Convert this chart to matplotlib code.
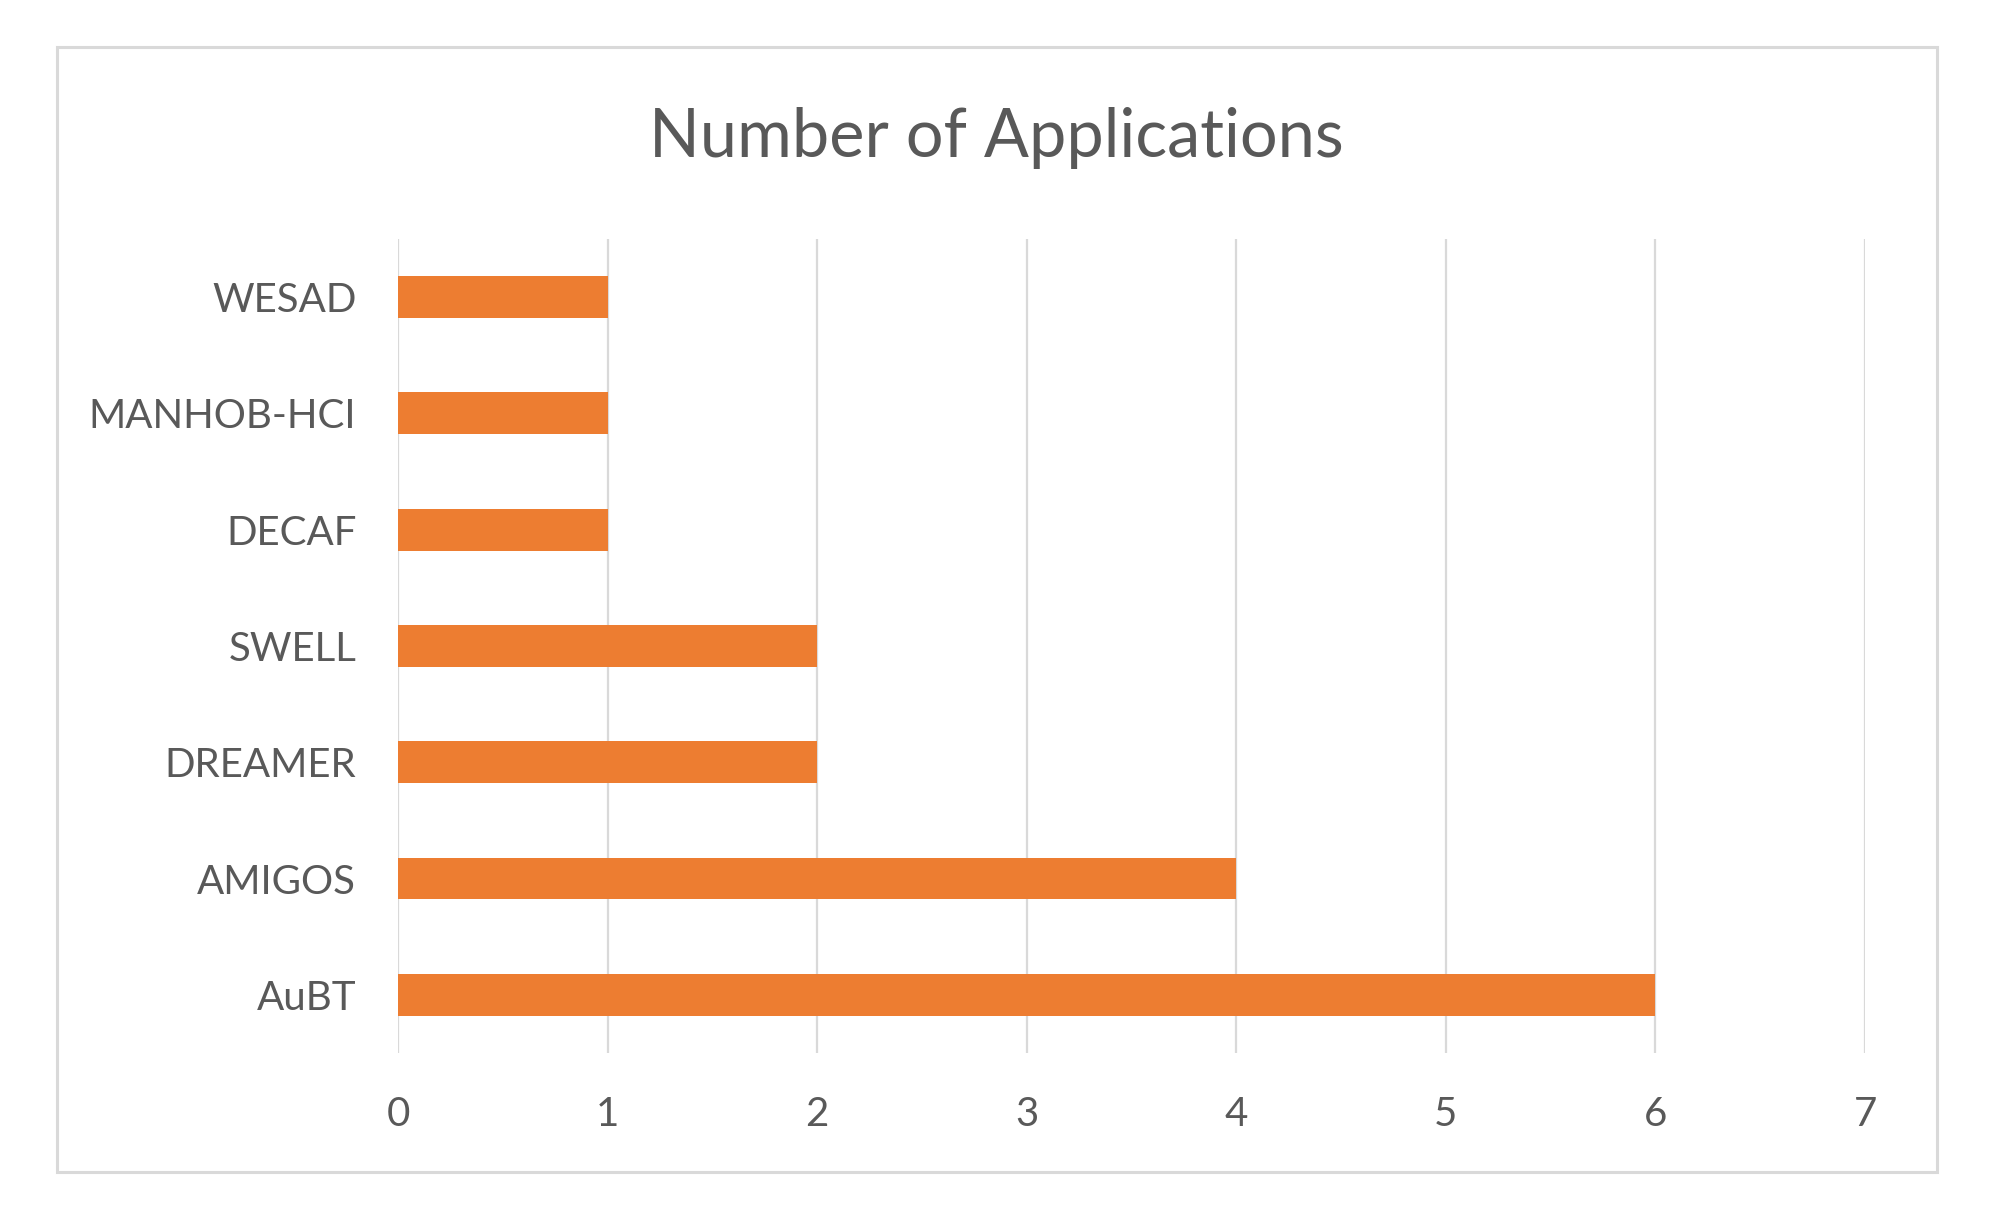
import matplotlib
matplotlib.use("Agg")
import matplotlib.pyplot as plt
from matplotlib.patches import Rectangle

# Datasets and how often each was used
datasets = ['AuBT', 'AMIGOS', 'DREAMER', 'SWELL', 'DECAF', 'MANHOB-HCI', 'WESAD']
counts = [6, 4, 2, 2, 1, 1, 1]
xticks = [0, 1, 2, 3, 4, 5, 6, 7]

plt.rcParams['font.family'] = ['Lato', 'DejaVu Sans']
text_col = '#595959'
grid_col = '#D9D9D9'
bar_col = '#ED7D31'

fig = plt.figure(figsize=(20.02, 12.10), dpi=100)
ax = fig.add_axes([0.1988, 0.1298, 0.7328, 0.6727])

ax.barh(range(len(datasets)), counts, height=0.36, color=bar_col, zorder=3)
ax.set_yticks(range(len(datasets)))
ax.set_yticklabels(datasets)
ax.set_ylim(-0.5, len(datasets) - 0.5)
ax.set_xlim(0, 7)
ax.set_xticks(xticks)
ax.set_xticklabels([str(t) for t in xticks])

for t in xticks:
    ax.axvline(t, color=grid_col, linewidth=1.6, zorder=1)

for s in ax.spines.values():
    s.set_visible(False)
ax.tick_params(axis='both', length=0, labelsize=29, colors=text_col)
ax.tick_params(axis='x', pad=31)
ax.tick_params(axis='y', pad=30)

fig.text(0.4975, 0.886, 'Number of Applications', ha='center', va='center',
         fontsize=48, color=text_col)

# outer chart frame
fig.patches.append(Rectangle((0.0285, 0.0314), 0.939, 0.9298, transform=fig.transFigure,
                             fill=False, edgecolor=grid_col, linewidth=2.2))

fig.savefig('out.png', dpi=100, facecolor='white')
